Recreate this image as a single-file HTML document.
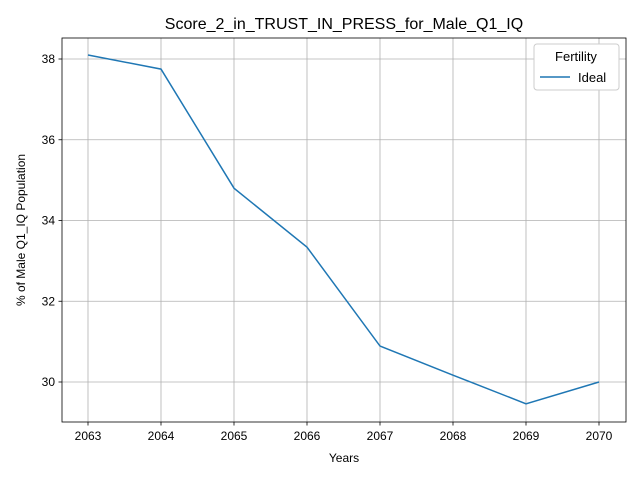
<!DOCTYPE html>
<html><head><meta charset="utf-8"><style>
body{margin:0;background:#fff;font-family:"Liberation Sans","DejaVu Sans",sans-serif;}
</style></head><body>
<svg id="chart" width="640" height="480" xmlns="http://www.w3.org/2000/svg">
<rect x="0" y="0" width="640" height="480" fill="#fff"/>
<g id="grid"></g>
<g id="ticks"></g>
<path id="line" fill="none" stroke="#1f77b4" stroke-width="1.5"/>
<rect x="62" y="38" width="564" height="384" fill="none" stroke="#000" stroke-width="0.8"/>
<text x="344" y="29" font-size="16" text-anchor="middle">Score_2_in_TRUST_IN_PRESS_for_Male_Q1_IQ</text>
<text x="344" y="462" font-size="12" text-anchor="middle">Years</text>
<text x="25" y="230" font-size="12" text-anchor="middle" transform="rotate(-90 25 230)">% of Male Q1_IQ Population</text>
<g>
<rect x="534" y="44" width="85" height="46" rx="3" fill="#fff" stroke="#ccc" stroke-width="1"/>
<text x="576" y="61" font-size="13" text-anchor="middle">Fertility</text>
<line x1="540" y1="77" x2="570" y2="77" stroke="#1f77b4" stroke-width="1.5"/>
<text x="578" y="82" font-size="13">Ideal</text>
</g>
</svg>
<script>
const years=[2063,2064,2065,2066,2067,2068,2069,2070];
const values=[38.1,37.75,34.8,33.34,30.89,30.17,29.46,30.0];
const yTicks=[30,32,34,36,38];
const xs=v=>88+(v-2063)*73;
const ys=v=>382-(v-30)*40.375;
const NS="http://www.w3.org/2000/svg";
const grid=document.getElementById('grid'),ticks=document.getElementById('ticks');
function mk(tag,attrs,parent){const e=document.createElementNS(NS,tag);for(const k in attrs)e.setAttribute(k,attrs[k]);parent.appendChild(e);return e;}
years.forEach(y=>{const x=xs(y);
 const g=mk('line',{x1:x,x2:x,y1:38,y2:422,stroke:'#b0b0b0','stroke-width':0.8},grid);
 
 
 mk('line',{x1:x,x2:x,y1:422,y2:425.5,stroke:'#000','stroke-width':0.8},ticks);
 const t=mk('text',{x:x,y:440,'font-size':12,'text-anchor':'middle'},ticks);t.textContent=y;
 
 
});
yTicks.forEach(v=>{const y=ys(v);
 const g=mk('line',{x1:62,x2:626,y1:y,y2:y,stroke:'#b0b0b0','stroke-width':0.8},grid);
 
 
 mk('line',{x1:58.5,x2:62,y1:y,y2:y,stroke:'#000','stroke-width':0.8},ticks);
 const t=mk('text',{x:55,y:y+4,'font-size':12,'text-anchor':'end'},ticks);t.textContent=v;
 
 
});
document.getElementById('line').setAttribute('d',years.map((y,i)=>(i?'L':'M')+xs(y)+' '+ys(values[i])).join(' '));
</script>
</body></html>
